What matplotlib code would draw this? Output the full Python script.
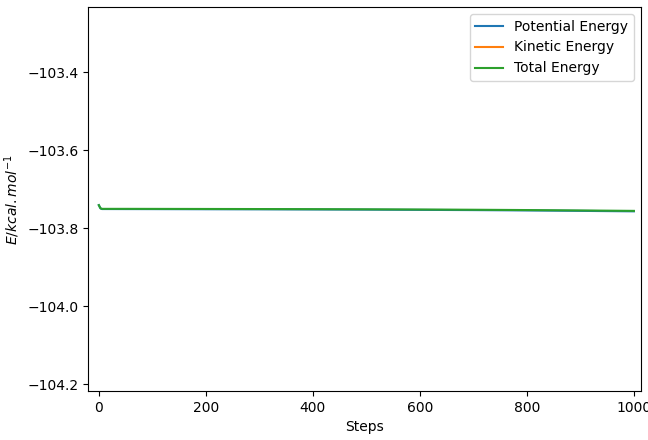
import numpy as np
import matplotlib
matplotlib.use('Agg')
import matplotlib.pyplot as plt

# valeurs (kcal/mol)
steps = [0, 3, 6, 50, 100, 200, 300, 400, 500, 600, 700, 800, 900, 1000]
total = [-103.741, -103.749, -103.7505, -103.7505, -103.7506, -103.7508, -103.7510,
         -103.7513, -103.7517, -103.7522, -103.7528, -103.7536, -103.7546, -103.7557]
kinetic = [0.0, 0.0003, 0.0005, 0.0006, 0.0006, 0.0007, 0.0007,
           0.0008, 0.0008, 0.0009, 0.0009, 0.0010, 0.0011, 0.0012]
potential = [t - k for t, k in zip(total, kinetic)]

fig, ax = plt.subplots(figsize=(6.48, 4.4), dpi=100)
ax.plot(steps, potential, label='Potential Energy')
ax.plot(steps, kinetic, label='Kinetic Energy')
ax.plot(steps, total, label='Total Energy')
ax.set_xlim(-20, 1013)
ax.set_ylim(-104.218, -103.233)
ax.set_yticks([-104.2, -104.0, -103.8, -103.6, -103.4])
ax.set_xlabel('Steps')
ax.set_ylabel(r'$E/kcal.mol^{-1}$')
ax.legend(loc='upper right')
fig.subplots_adjust(left=0.136, right=0.989, top=0.984, bottom=0.111)
fig.savefig('out.png')
